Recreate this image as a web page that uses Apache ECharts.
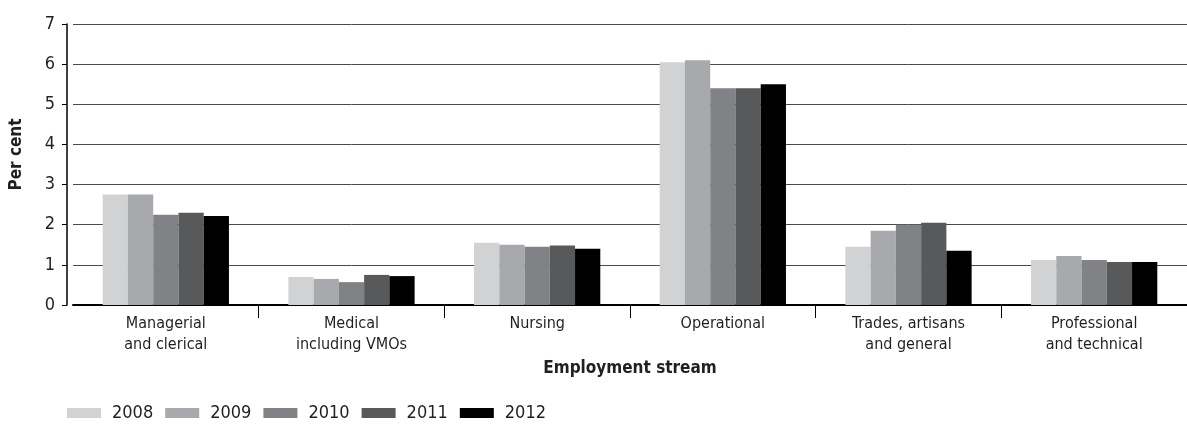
<!DOCTYPE html>
<html>
<head>
<meta charset="utf-8">
<script src="https://cdn.jsdelivr.net/npm/echarts@6/dist/echarts.min.js"></script>
<style>
  html, body { margin: 0; padding: 0; background: #ffffff; }
  #chart { width: 1187px; height: 426px; }
</style>
</head>
<body>
<div id="chart"></div>
<script>
// Employment streams (x-axis categories)
const categories = [
  'Managerial\nand clerical',
  'Medical\nincluding VMOs',
  'Nursing',
  'Operational',
  'Trades, artisans\nand general',
  'Professional\nand technical'
];

// Years shown as series
const years = ['2008', '2009', '2010', '2011', '2012'];

// Per cent values by year, in category order
const v2008 = [2.75, 0.70, 1.55, 6.05, 1.45, 1.12];
const v2009 = [2.75, 0.65, 1.50, 6.10, 1.85, 1.22];
const v2010 = [2.25, 0.57, 1.45, 5.40, 2.00, 1.12];
const v2011 = [2.30, 0.75, 1.48, 5.40, 2.05, 1.07];
const v2012 = [2.22, 0.72, 1.40, 5.50, 1.35, 1.07];

const yearValues = [v2008, v2009, v2010, v2011, v2012];
const yearColors = ['#d1d2d4', '#a7a9ac', '#808285', '#58595b', '#000000'];

const FONT = '"DejaVu Sans Condensed", "Noto Sans", sans-serif';
const TEXT = '#231f20';

const chart = echarts.init(document.getElementById('chart'), null, { renderer: 'canvas' });

chart.setOption({
  animation: false,
  backgroundColor: '#ffffff',
  textStyle: { fontFamily: FONT, color: TEXT },
  grid: { left: 72, top: 24, width: 1120, height: 281, containLabel: false },
  legend: {
    left: 62,
    top: 399,
    icon: 'rect',
    itemWidth: 34,
    itemHeight: 10,
    itemGap: 12,
    data: years,
    textStyle: { fontFamily: FONT, fontSize: 18, color: TEXT, padding: [0, 0, 0, 6] }
  },
  xAxis: {
    type: 'category',
    data: categories,
    name: 'Employment stream',
    nameLocation: 'middle',
    nameGap: 55,
    nameTextStyle: { fontFamily: FONT, fontSize: 17, fontWeight: 'bold', color: TEXT },
    axisLine: { lineStyle: { color: '#000000', width: 2 } },
    // separators between streams; the left edge is covered by the value axis
    axisTick: {
      show: true,
      length: 13,
      interval: (index) => index !== 0,
      lineStyle: { color: '#000000', width: 1 }
    },
    axisLabel: { fontFamily: FONT, fontSize: 16, color: TEXT, margin: 8, lineHeight: 21 }
  },
  yAxis: {
    type: 'value',
    min: 0,
    max: 7,
    interval: 1,
    offset: 6,
    name: 'Per cent',
    nameLocation: 'middle',
    nameGap: 42,
    nameTextStyle: { fontFamily: FONT, fontSize: 17, fontWeight: 'bold', color: TEXT, padding: [0, 0, 0, 20] },
    axisLine: { show: true, lineStyle: { color: '#000000', width: 1.5 } },
    axisTick: { show: true, length: 5, lineStyle: { color: '#000000', width: 1 } },
    axisLabel: { fontFamily: FONT, fontSize: 18, color: TEXT, margin: 12 },
    splitLine: { show: true, lineStyle: { color: '#4a4a4a', width: 1 } }
  },
  series: years.map((y, i) => ({
    name: y,
    type: 'bar',
    data: yearValues[i],
    barGap: '0%',
    barCategoryGap: '32%',
    itemStyle: { color: yearColors[i] }
  }))
});
</script>
</body>
</html>
